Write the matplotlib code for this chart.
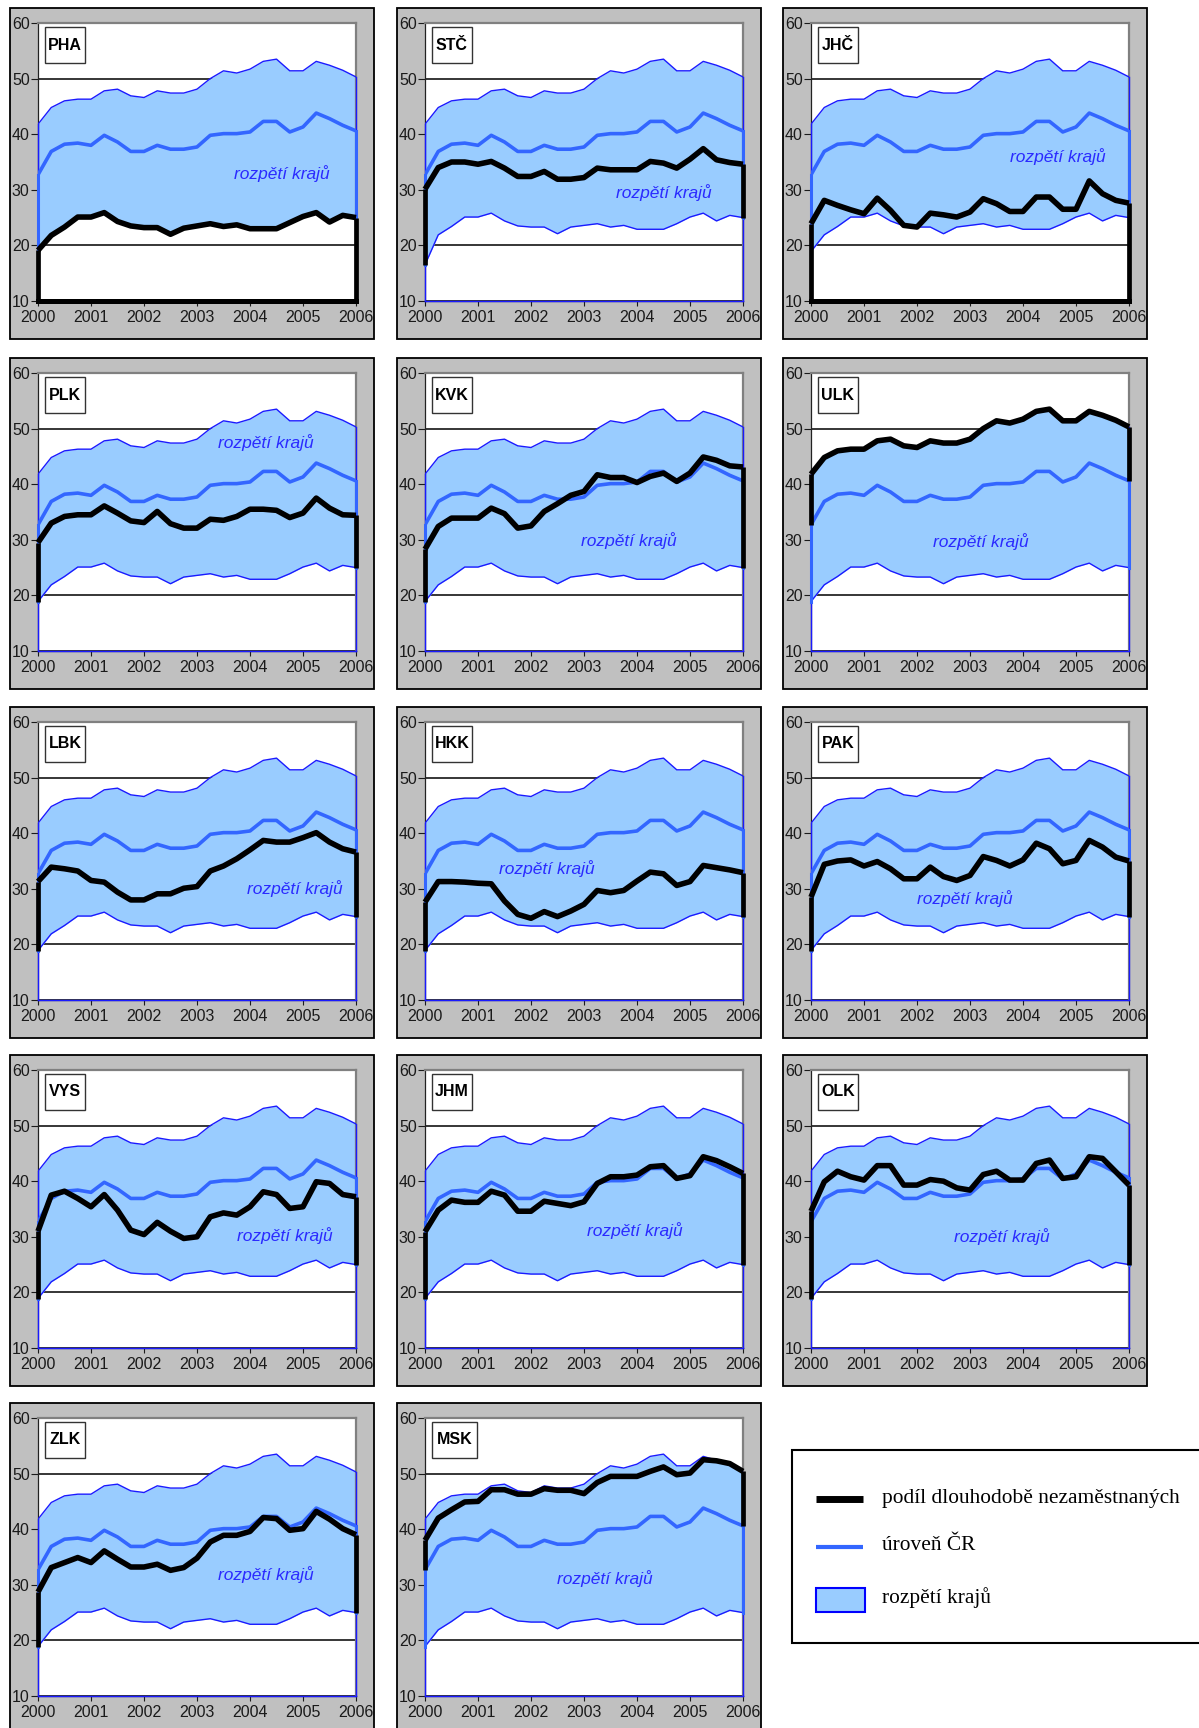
import numpy as np
import matplotlib.pyplot as plt
from matplotlib.patches import Rectangle

plt.rcParams['font.family'] = ['Liberation Sans', 'DejaVu Sans']

# quarterly observations 2000 Q1 .. 2006 Q1
quarters = 2000 + np.arange(25) / 4

band_max = [41.8, 44.8, 46.0, 46.3, 46.3, 47.8, 48.1, 46.9, 46.6, 47.8, 47.4, 47.4, 48.1,
            50.0, 51.4, 51.0, 51.7, 53.1, 53.5, 51.4, 51.4, 53.1, 52.4, 51.5, 50.3]
band_min = [18.9, 21.9, 23.4, 25.1, 25.1, 25.8, 24.4, 23.5, 23.3, 23.3, 22.1, 23.3, 23.6,
            23.9, 23.3, 23.6, 22.9, 22.9, 22.9, 23.9, 25.1, 25.8, 24.4, 25.4, 25.0]
cr_level = [32.7, 36.9, 38.2, 38.4, 38.0, 39.8, 38.6, 36.9, 36.9, 38.0, 37.3, 37.3, 37.7,
            39.8, 40.1, 40.1, 40.4, 42.3, 42.3, 40.4, 41.3, 43.8, 42.8, 41.6, 40.6]
stc_min_start = 16.5

regions = ['PHA', 'STČ', 'JHČ', 'PLK', 'KVK', 'ULK', 'LBK',
           'HKK', 'PAK', 'VYS', 'JHM', 'OLK', 'ZLK', 'MSK']

pha = [19.1, 21.8, 23.3, 25.1, 25.1, 25.9, 24.3, 23.5, 23.2, 23.2, 22.0, 23.1, 23.5,
       23.9, 23.4, 23.7, 23.0, 23.0, 23.0, 24.1, 25.2, 25.9, 24.2, 25.4, 25.0]
stc = [30.1, 34.0, 35.0, 35.0, 34.6, 35.1, 33.9, 32.4, 32.4, 33.3, 31.9, 31.9, 32.2,
       33.9, 33.6, 33.6, 33.6, 35.1, 34.8, 33.9, 35.5, 37.4, 35.4, 34.9, 34.6]
jhc = [23.9, 28.1, 27.2, 26.4, 25.7, 28.5, 26.3, 23.6, 23.3, 25.8, 25.5, 25.1, 26.0,
       28.4, 27.5, 26.1, 26.1, 28.7, 28.7, 26.5, 26.5, 31.6, 29.3, 28.1, 27.6]
plk = [29.5, 33.0, 34.2, 34.5, 34.5, 36.1, 34.8, 33.4, 33.1, 35.1, 32.9, 32.1, 32.1,
       33.7, 33.5, 34.2, 35.5, 35.5, 35.3, 34.0, 34.8, 37.5, 35.7, 34.5, 34.4]
kvk = [28.3, 32.4, 33.9, 33.9, 33.9, 35.7, 34.7, 32.1, 32.5, 35.1, 36.5, 38.0, 38.7,
       41.7, 41.2, 41.2, 40.3, 41.4, 42.0, 40.5, 42.0, 44.9, 44.3, 43.3, 43.1]
ulk = [41.8, 44.8, 46.0, 46.3, 46.3, 47.8, 48.1, 46.9, 46.6, 47.8, 47.4, 47.4, 48.1,
       50.0, 51.4, 51.0, 51.7, 53.1, 53.5, 51.4, 51.4, 53.1, 52.4, 51.5, 50.3]
lbk = [31.3, 33.9, 33.6, 33.2, 31.5, 31.2, 29.4, 28.0, 28.0, 29.1, 29.1, 30.1, 30.4,
       33.2, 34.1, 35.4, 37.0, 38.7, 38.4, 38.4, 39.2, 40.1, 38.4, 37.2, 36.6]
hkk = [27.6, 31.3, 31.3, 31.2, 31.0, 30.9, 27.8, 25.4, 24.7, 25.9, 25.0, 26.0, 27.2,
       29.7, 29.3, 29.7, 31.4, 33.0, 32.7, 30.6, 31.3, 34.2, 33.8, 33.4, 32.9]
pak = [28.5, 34.4, 35.0, 35.2, 34.1, 34.9, 33.6, 31.8, 31.8, 33.9, 32.2, 31.5, 32.4,
       35.8, 35.1, 34.1, 35.2, 38.2, 37.2, 34.5, 35.1, 38.7, 37.5, 35.7, 35.0]
vys = [31.0, 37.5, 38.2, 36.9, 35.4, 37.6, 34.8, 31.2, 30.4, 32.6, 31.0, 29.7, 30.0,
       33.6, 34.3, 33.9, 35.4, 38.1, 37.6, 35.1, 35.4, 39.9, 39.6, 37.6, 37.2]
jhm = [30.9, 34.8, 36.6, 36.2, 36.2, 38.2, 37.5, 34.6, 34.6, 36.4, 36.0, 35.6, 36.3,
       39.6, 40.8, 40.8, 41.1, 42.6, 42.8, 40.5, 41.0, 44.4, 43.7, 42.6, 41.4]
olk = [34.6, 39.9, 41.8, 40.8, 40.2, 42.8, 42.8, 39.3, 39.3, 40.3, 40.0, 38.8, 38.4,
       41.2, 41.8, 40.2, 40.2, 43.2, 43.8, 40.5, 40.8, 44.4, 44.1, 41.7, 39.3]
zlk = [28.7, 33.1, 34.0, 34.9, 34.0, 36.1, 34.6, 33.2, 33.2, 33.7, 32.6, 33.1, 34.8,
       37.7, 38.9, 38.9, 39.6, 42.1, 41.9, 39.8, 40.1, 43.2, 41.8, 40.1, 39.0]
msk = [38.0, 42.0, 43.5, 44.9, 45.0, 47.1, 47.1, 46.3, 46.3, 47.3, 47.0, 47.0, 46.4,
       48.4, 49.5, 49.5, 49.5, 50.4, 51.2, 49.8, 50.1, 52.5, 52.3, 51.8, 50.4]

region_values = [pha, stc, jhc, plk, kvk, ulk, lbk, hkk, pak, vys, jhm, olk, zlk, msk]

# where the black outline stops at the ends of each panel
black_stop = ['bottom', 'min', 'bottom', 'min', 'min', 'cr', 'min',
              'min', 'min', 'min', 'min', 'min', 'min', 'cr']
# position of the "rozpětí krajů" label (data coords)
label_pos = [(2004.6, 33.0), (2004.5, 29.5), (2004.65, 36.0), (2004.3, 47.5),
             (2003.85, 29.9), (2003.2, 29.6), (2004.85, 30.0), (2002.3, 33.6),
             (2002.9, 28.2), (2004.65, 30.3), (2003.95, 31.1), (2003.6, 30.0),
             (2004.3, 31.9), (2003.4, 31.1)]

W, H = 1199, 1728
LIGHT = '#99ccff'
EDGE = '#1a1aff'
CRBLUE = '#3366ff'
TXTBLUE = '#2a2aff'


def frac(x0, y0, w, h):
    return [x0 / W, 1 - (y0 + h) / H, w / W, h / H]


fig = plt.figure(figsize=(W / 100, H / 100), dpi=100)

col_left = [10, 397, 783]
row_top = [8, 358, 707, 1055, 1403]
panel_w, panel_h = 364, 331

for i, name in enumerate(regions):
    r, c = divmod(i, 3)
    px, py = col_left[c], row_top[r]
    ph = panel_h if r < 4 else 340
    fig.patches.append(Rectangle((px / W, 1 - (py + ph) / H), panel_w / W, ph / H,
                                 transform=fig.transFigure, facecolor='#c0c0c0',
                                 edgecolor='black', linewidth=1.3, zorder=-1))

    ax = fig.add_axes(frac(px + 28, py + 15, 318, 278))
    ax.set_facecolor('white')
    vals = region_values[i]
    lo = list(band_min)
    if name == 'STČ':
        lo[0] = stc_min_start

    ax.set_xlim(2000, 2006)
    ax.set_ylim(10, 60)
    ax.set_yticks([10, 20, 30, 40, 50, 60])
    ax.set_xticks(range(2000, 2007))
    ax.tick_params(axis='both', labelsize=11.5, colors='#1a1a1a', direction='out')
    ax.tick_params(axis='y', length=5, width=0.8, pad=1)
    ax.tick_params(axis='x', length=3.5, width=0.8, pad=3)
    ax.grid(axis='y', color='black', linewidth=1.1)
    ax.set_axisbelow(True)
    for s in ['top', 'right']:
        ax.spines[s].set_color('#808080')
        ax.spines[s].set_linewidth(1.6)
    for s in ['left', 'bottom']:
        ax.spines[s].set_color('#222222')
        ax.spines[s].set_linewidth(0.9)

    # band of regions
    ax.fill_between(quarters, lo, band_max, color=LIGHT, linewidth=0, zorder=2)
    ax.plot(quarters, band_max, color=EDGE, lw=1.0, zorder=3)
    ax.plot(quarters, lo, color=EDGE, lw=1.0, zorder=3)
    for xe, top in [(2000, band_max[0]), (2006, band_max[-1])]:
        ax.plot([xe, xe], [top, 10], color=EDGE, lw=1.0, zorder=3, clip_on=False)
    ax.plot([2000, 2006], [10, 10], color=EDGE, lw=1.0, zorder=3, clip_on=False)

    # level of the Czech Republic
    ax.plot(quarters, cr_level, color=CRBLUE, lw=2.6, zorder=4,
            solid_joinstyle='round')
    for k, xe in [(0, 2000), (-1, 2006)]:
        ax.plot([xe, xe], [cr_level[k], lo[k]], color=CRBLUE, lw=2.2, zorder=4,
                clip_on=False)

    # region share
    ax.plot(quarters, vals, color='black', lw=4.0, zorder=5,
            solid_joinstyle='round', solid_capstyle='butt', clip_on=False)
    for k, xe in [(0, 2000), (-1, 2006)]:
        if black_stop[i] == 'bottom':
            stop = 10
        elif black_stop[i] == 'cr':
            stop = cr_level[k]
        else:
            stop = lo[k]
        ax.plot([xe, xe], [vals[k], stop], color='black', lw=3.4, zorder=5,
                clip_on=False, solid_capstyle='butt')
    if black_stop[i] == 'bottom':
        ax.plot([2000, 2006], [10, 10], color='black', lw=3.6, zorder=5,
                clip_on=False, solid_capstyle='projecting')

    lx, ly = label_pos[i]
    ax.text(lx, ly, 'rozpětí krajů', color=TXTBLUE, fontsize=12.5, style='italic',
            ha='center', va='center', zorder=6)

    # region code box
    bx, by = px + 28 + 7, py + 15 + 4
    bw = 45 if name == 'MSK' else 40
    fig.patches.append(Rectangle((bx / W, 1 - (by + 36) / H), bw / W, 36 / H,
                                 transform=fig.transFigure, facecolor='white',
                                 edgecolor='#333333', linewidth=1.0, zorder=10))
    fig.text((bx + bw / 2) / W, 1 - (by + 18) / H, name, fontsize=11.5,
             fontweight='bold', ha='center', va='center', zorder=11)

# legend
fig.patches.append(Rectangle((792 / W, 1 - 1643 / H), 420 / W, 193 / H,
                             transform=fig.transFigure, facecolor='white',
                             edgecolor='black', linewidth=1.5, zorder=-1))
lg = fig.add_axes([0, 0, 1, 1], facecolor='none')
lg.set_xlim(0, W)
lg.set_ylim(H, 0)
lg.axis('off')
lg.plot([816, 863], [1499, 1499], color='black', lw=5.0, solid_capstyle='butt')
lg.plot([816, 863], [1547, 1547], color=CRBLUE, lw=3.0, solid_capstyle='butt')
lg.add_patch(Rectangle((816, 1588), 49, 24, facecolor=LIGHT, edgecolor='#0000ff',
                       linewidth=1.5))
legend_texts = ['podíl dlouhodobě nezaměstnaných', 'úroveň ČR', 'rozpětí krajů']
for t, yy in zip(legend_texts, [1498, 1546, 1598]):
    lg.text(882, yy, t, fontsize=15.4, family='Liberation Serif', va='center',
            ha='left')

fig.savefig('out.png', dpi=100)
